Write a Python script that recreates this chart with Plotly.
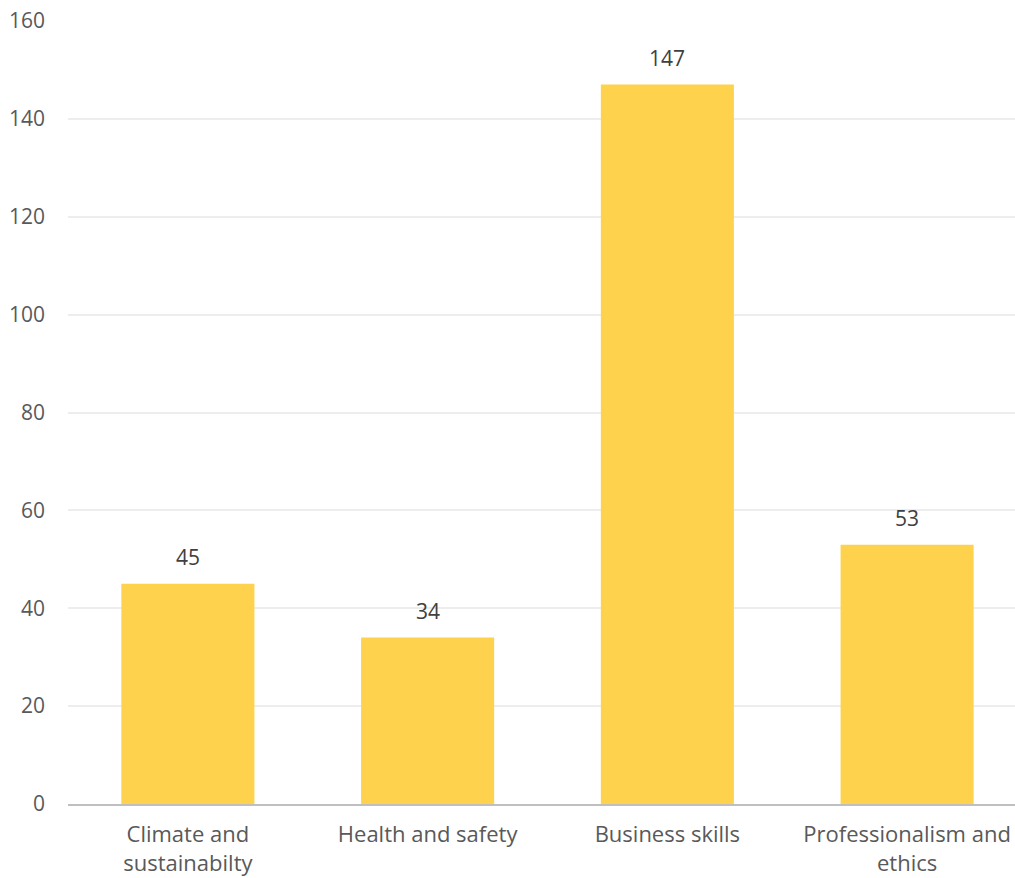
import plotly.graph_objects as go

categories = ["Climate and<br>sustainabilty", "Health and safety", "Business skills", "Professionalism and<br>ethics"]
values = [45, 34, 147, 53]
y_ticks = [0, 20, 40, 60, 80, 100, 120, 140, 160]

font_family = "Open Sans, Noto Sans, sans-serif"
text_color = "#595959"

fig = go.Figure()
fig.add_trace(go.Bar(
    x=list(range(len(categories))),
    y=values,
    width=0.555,
    marker=dict(color="#FFD24D", line=dict(width=0)),
    hoverinfo="skip",
))

for i, v in enumerate(values):
    fig.add_annotation(x=i, y=v, text=str(v), showarrow=False, yanchor="bottom",
                       yshift=11, font=dict(family=font_family, size=21, color="#404040"))

fig.update_layout(
    width=1015, height=878,
    margin=dict(l=68, r=0, t=21, b=74),
    plot_bgcolor="white", paper_bgcolor="white",
    showlegend=False,
    font=dict(family=font_family, size=21, color=text_color),
    bargap=0.445,
)
fig.update_xaxes(
    tickmode="array", tickvals=list(range(len(categories))), ticktext=categories,
    range=[-0.5, 3.45], showgrid=False, zeroline=False,
    showline=True, linecolor="#BFBFBF", linewidth=2, ticks="",
    ticklabelstandoff=10,
    tickfont=dict(family=font_family, size=22, color=text_color),
)
fig.update_yaxes(
    range=[0, 160], tickmode="array", tickvals=y_ticks,
    showgrid=True, gridcolor="#EDEDED", gridwidth=1.5, zeroline=False,
    showline=False, ticks="", ticklabelstandoff=22,
    tickfont=dict(family=font_family, size=21, color=text_color),
)

fig.write_html("out.html")
